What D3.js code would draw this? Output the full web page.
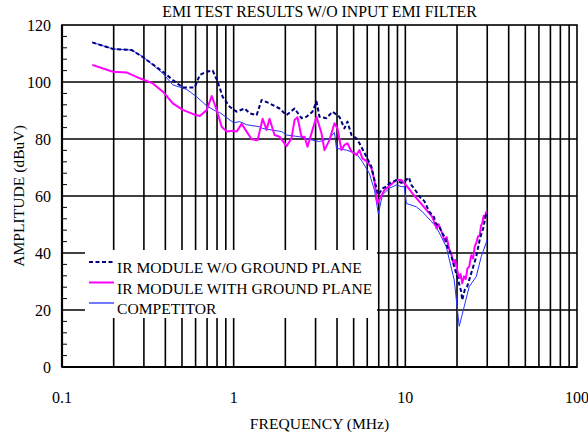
<!DOCTYPE html>
<html>
<head>
<meta charset="utf-8">
<script src="https://cdn.jsdelivr.net/npm/d3@7/dist/d3.min.js"></script>
<style>
    body { margin: 0; background: #fff; }
</style>
</head>
<body>
<div id="chart"></div>
<script>
// EMI test results (frequency in MHz, amplitude in dBuV)

const titleText = "EMI TEST RESULTS W/O INPUT EMI FILTER";
const xLabelText = "FREQUENCY (MHz)";
const yLabelText = "AMPLITUDE (dBuV)";
const xTickValues = [0.1, 1, 10, 100];
const yTickValues = [0, 20, 40, 60, 80, 100, 120];
const seriesNames = ["IR MODULE W/O GROUND PLANE", "IR MODULE WITH GROUND PLANE", "COMPETITOR"];

const noPlane = [
    [0.15, 113.9], [0.198, 111.6], [0.255, 111.2], [0.296, 108.7], [0.387, 103.6], [0.442, 100.7],
    [0.505, 98.1], [0.593, 98.1], [0.635, 102.5], [0.697, 103.6], [0.755, 104], [0.807, 100.1],
    [0.863, 94.8], [0.948, 91.3], [1.04, 89.6], [1.158, 90.7], [1.239, 89], [1.361, 88.4],
    [1.455, 93.7], [1.618, 92.5], [1.849, 90.7], [2.033, 88.4], [2.263, 90.7], [2.484, 87.3],
    [2.657, 87.8], [2.878, 89.6], [3.039, 93.1], [3.162, 87.8], [3.473, 87.3], [3.764, 89.6],
    [4.131, 87.8], [4.418, 83.7], [4.601, 86.1], [4.853, 81.4], [5.188, 80.2], [5.404, 78.5],
    [5.931, 73.8], [6.344, 70.3], [6.604, 65.6], [6.875, 61.5], [6.966, 60.4], [7.35, 62.7],
    [7.753, 63.3], [8.07, 64.4], [8.87, 65.6], [9.48, 64.6], [9.86, 65], [10.5, 66.5],
    [10.83, 63.9], [11.6, 61.5], [12.06, 59.8], [12.9, 58.2], [13.3, 56.5], [13.79, 54.5],
    [14.7, 52.6], [15.0, 50.5], [15.77, 49.2], [16.6, 46.4], [17.0, 45.8], [17.54, 42.2],
    [18.4, 39.8], [19.27, 35.2], [20.3, 30.5], [21.17, 26.4], [21.45, 23.5], [22.2, 27.1],
    [22.91, 28.2], [24.4, 33.6], [25.88, 38.7], [27.2, 45.1], [28.4, 48.6], [29.58, 53.9]
];

const withPlane = [
    [0.15, 106], [0.198, 103.6], [0.239, 103.3], [0.284, 101.3], [0.338, 99.5], [0.387, 96.6],
    [0.442, 92.5], [0.505, 90.2], [0.578, 88.8], [0.635, 88.1], [0.697, 90.2], [0.745, 95.1],
    [0.796, 90.2], [0.851, 84.3], [0.91, 82.6], [1.0, 82.9], [1.04, 82.6], [1.113, 85.3],
    [1.19, 82.6], [1.273, 79.9], [1.379, 79.6], [1.475, 87.1], [1.555, 83.2], [1.618, 87.1],
    [1.73, 81.4], [1.849, 80.8], [2.033, 77.5], [2.173, 80.2], [2.263, 86.7], [2.355, 87.6],
    [2.484, 80.8], [2.588, 80.8], [2.692, 77.3], [2.878, 83.2], [3.039, 87.8], [3.248, 82],
    [3.381, 76.1], [3.614, 79.6], [3.865, 85.5], [4.024, 83.7], [4.245, 76.1], [4.418, 77.9],
    [4.601, 78.5], [4.853, 75.6], [5.188, 74.4], [5.404, 76.1], [5.623, 73.2], [6.014, 72],
    [6.344, 69.7], [6.604, 65.6], [6.875, 57.4], [7.55, 62.1], [8.4, 64.4], [8.87, 65.6],
    [9.48, 65.6], [10.27, 63.3], [10.99, 60.9], [12.56, 56.8], [14.35, 52.7], [15.2, 48.6],
    [15.6, 50.1], [16.41, 46.9], [16.9, 44.2], [17.4, 45.6], [18.0, 41.4], [18.5, 39.9],
    [19.1, 36.2], [19.5, 37.6], [20.05, 34], [20.6, 31.2], [21.0, 32.6], [21.45, 29.4],
    [22.0, 31.8], [22.5, 30.9], [23.0, 34.6], [23.55, 35.2], [24.2, 39.2], [24.8, 38.1],
    [25.4, 42.4], [25.88, 43.4], [26.5, 45.8], [27.1, 46.1], [27.6, 49.6], [28.05, 50.4],
    [28.6, 53.1], [29.1, 52.2], [29.58, 54.6]
];

const competitor = [
    [0.15, 113.9], [0.198, 111.6], [0.255, 111.2], [0.296, 108.9], [0.387, 103], [0.442, 99],
    [0.533, 97.4], [0.609, 94.8], [0.697, 91.6], [0.796, 89.6], [0.829, 89.3], [1.0, 85.7],
    [1.083, 86.1], [1.19, 85], [1.416, 84.3], [1.475, 83.7], [1.901, 82.6], [2.033, 81.4],
    [2.419, 80.8], [2.878, 79.6], [3.162, 79.1], [3.614, 80.2], [3.865, 82.3], [3.97, 76.7],
    [4.539, 76.1], [5.188, 74.9], [5.623, 72], [6.175, 67.9], [6.604, 62.1], [6.966, 53.7],
    [7.35, 60.4], [8.07, 62.7], [8.87, 63.9], [9.48, 63.3], [9.86, 63.3], [10.14, 57.4],
    [11.59, 56.2], [12.56, 54.5], [15.14, 49.2], [17.31, 42.2], [19.27, 30.5], [20.6, 14.3],
    [22.03, 21.2], [23.55, 28.2], [25.88, 31.7], [27.67, 38.7], [29.97, 44.6]
];

const seriesData = [noPlane, withPlane, competitor];
const seriesColors = ["#000080", "#ff00ff", "#2233ff"];
const seriesWidths = [2, 2, 1];
const seriesDashes = ["4,2.5", null, null];

const fontFamily = "Liberation Serif";

// Dimensions
const margin = { top: 25, right: 11, bottom: 67, left: 62 };
const width = 588 - margin.left - margin.right;
const height = 434 - margin.top - margin.bottom;

const svg = d3.select("#chart")
    .append("svg")
    .attr("width", 588)
    .attr("height", 434)
    .attr("font-family", fontFamily);

svg.append("rect").attr("width", 588).attr("height", 434).attr("fill", "#fff");

const inner = svg.append("g")
    .attr("transform", `translate(${margin.left}, ${margin.top})`);

// Scales
const xScale = d3.scaleLog().domain([0.1, 100]).range([0, width]);
const yScale = d3.scaleLinear().domain([0, 120]).range([height, 0]);

// Vertical grid: 1..9 in every decade
const gridX = [];
[0.1, 1, 10].forEach(d => {
    for (let k = 1; k <= 9; k++) gridX.push(d * k);
});
inner.append("g")
    .selectAll("line")
    .data(gridX.filter(v => v > 0.1))
    .join("line")
    .attr("x1", d => xScale(d)).attr("x2", d => xScale(d))
    .attr("y1", 0).attr("y2", height)
    .attr("stroke", "#000")
    .attr("stroke-width", 1.6);

// Horizontal grid
inner.append("g")
    .selectAll("line")
    .data(yTickValues.filter(v => v > 0 && v < 120))
    .join("line")
    .attr("x1", 0).attr("x2", width)
    .attr("y1", d => yScale(d)).attr("y2", d => yScale(d))
    .attr("stroke", "#000")
    .attr("stroke-width", 1.6);

// Minor ticks on the left axis
const minorY = d3.range(4, 120, 4).filter(v => v % 20 !== 0);
inner.append("g")
    .selectAll("line")
    .data(minorY)
    .join("line")
    .attr("x1", 0).attr("x2", 5)
    .attr("y1", d => yScale(d)).attr("y2", d => yScale(d))
    .attr("stroke", "#000")
    .attr("stroke-width", 1);

// Legend box (white, hides the grid behind it)
const legend = inner.append("g");
legend.append("rect")
    .attr("x", 23).attr("y", 225)
    .attr("width", 292).attr("height", 68)
    .attr("fill", "#fff");

// Frame
inner.append("rect")
    .attr("width", width).attr("height", height)
    .attr("fill", "none")
    .attr("stroke", "#000")
    .attr("stroke-width", 1.6);
inner.append("line")
    .attr("x1", 0).attr("x2", 0).attr("y1", 0).attr("y2", height)
    .attr("stroke", "#000").attr("stroke-width", 2.2);
inner.append("line")
    .attr("x1", 0).attr("x2", width).attr("y1", height).attr("y2", height)
    .attr("stroke", "#000").attr("stroke-width", 2.2);

// Series lines
const line = d3.line()
    .x(d => xScale(d[0]))
    .y(d => yScale(d[1]));

// draw competitor first, then magenta, navy on top
[2, 1, 0].forEach(i => {
    inner.append("path")
        .datum(seriesData[i])
        .attr("d", line)
        .attr("fill", "none")
        .attr("stroke", seriesColors[i])
        .attr("stroke-width", seriesWidths[i])
        .attr("stroke-dasharray", seriesDashes[i])
        .attr("stroke-linejoin", "round");
});

// Legend entries
seriesNames.forEach((name, i) => {
    const row = legend.append("g")
        .attr("transform", `translate(27, ${248 + i * 20.5})`);
    row.append("line")
        .attr("x1", 0).attr("x2", 25)
        .attr("y1", -11).attr("y2", -11)
        .attr("stroke", seriesColors[i])
        .attr("stroke-width", seriesWidths[i] === 1 ? 1.3 : 2)
        .attr("stroke-dasharray", seriesDashes[i]);
    row.append("text")
        .attr("x", 28)
        .attr("y", 0)
        .attr("font-size", "15.6px")
        .text(name);
});

// Tick labels
inner.append("g")
    .selectAll("text")
    .data(yTickValues)
    .join("text")
    .attr("x", -11)
    .attr("y", d => yScale(d))
    .attr("dy", "0.35em")
    .attr("text-anchor", "end")
    .attr("font-size", "16px")
    .text(d => d);

inner.append("g")
    .selectAll("text")
    .data(xTickValues)
    .join("text")
    .attr("x", d => xScale(d))
    .attr("y", height + 36)
    .attr("text-anchor", "middle")
    .attr("font-size", "16px")
    .text(d => d);

// Axis labels and title
inner.append("text")
    .attr("x", width / 2)
    .attr("y", height + 62)
    .attr("text-anchor", "middle")
    .attr("font-size", "15.6px")
    .text(xLabelText);

inner.append("text")
    .attr("transform", "rotate(-90)")
    .attr("x", -height / 2)
    .attr("y", -38)
    .attr("text-anchor", "middle")
    .attr("font-size", "15.6px")
    .text(yLabelText);

inner.append("text")
    .attr("x", width / 2)
    .attr("y", -8)
    .attr("text-anchor", "middle")
    .attr("font-size", "15.8px")
    .text(titleText);
</script>
</body>
</html>
